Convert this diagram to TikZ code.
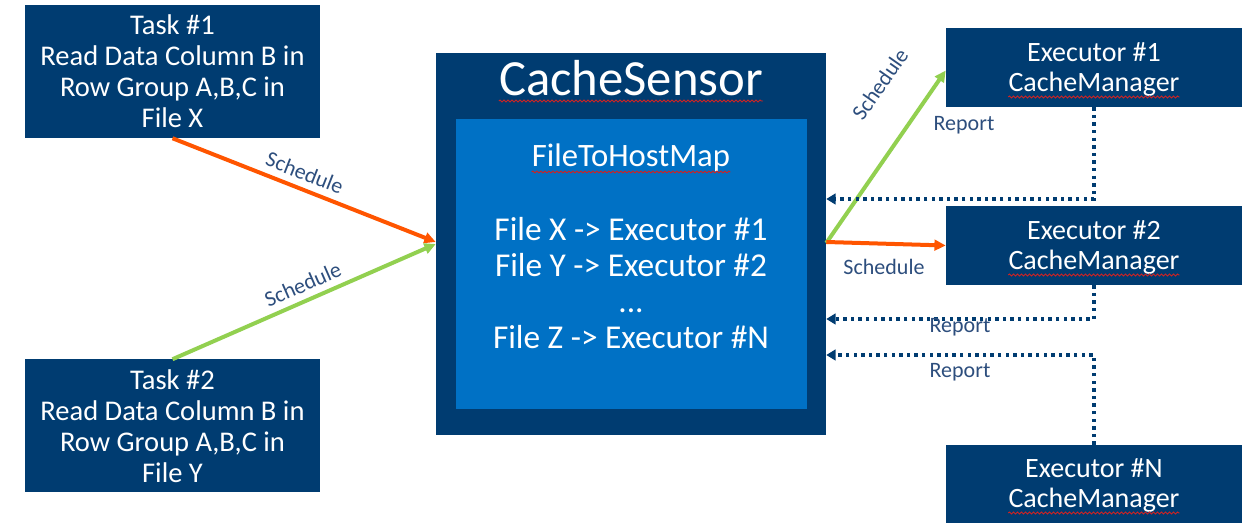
\documentclass[tikz,border=0pt]{standalone}
\usepackage{fontspec}
\setmainfont{Carlito}
\usetikzlibrary{arrows.meta,calc,decorations.pathmorphing}

\definecolor{navy}{RGB}{0,60,113}
\definecolor{mapblue}{RGB}{0,113,197}
\definecolor{schedorange}{RGB}{255,85,0}
\definecolor{schedgreen}{RGB}{146,208,80}
\definecolor{labelblue}{RGB}{45,78,125}
\definecolor{spellred}{RGB}{205,35,35}

% red wavy underline below a named text node
\newcommand\squig[1]{\draw[squiggle] ($(#1.base west)+(0,5)$) -- ($(#1.base east)+(0,5)$);}

\begin{document}
\begin{tikzpicture}[x=0.75pt,y=-0.75pt,
  taskbox/.style={fill=navy, text=white, minimum width=221.25pt, minimum height=99.75pt,
    align=center, inner sep=0pt, font=\fontsize{21.4}{23.25}\selectfont},
  execbox/.style={fill=navy, minimum width=222pt, minimum height=59.25pt, inner sep=0pt},
  exectext/.style={text=white, inner sep=0pt, anchor=base, font=\fontsize{21}{24}\selectfont},
  lbl/.style={text=labelblue, inner sep=2pt, font=\fontsize{16.5}{19}\selectfont},
  sched/.style={line width=3pt, -{Triangle[length=8.5pt,width=8pt]}},
  report/.style={navy, line width=2.5pt, dash pattern=on 2.5pt off 3.2pt,
    -{Triangle[length=7pt,width=8pt]}},
  squiggle/.style={spellred, line width=0.7pt, decorate,
    decoration={snake, amplitude=0.7pt, segment length=3pt}}]
\useasboundingbox (0,0) rectangle (1243,523);
\clip (0,0) rectangle (1243,523);

% task boxes
\node[taskbox] (t1) at (172.5,71.5) {Task \#1\\Read Data Column B in\\Row Group A,B,C in\\File X};
\node[taskbox] (t2) at (172.5,426) {Task \#2\\Read Data Column B in\\Row Group A,B,C in\\File Y};

% CacheSensor with its file-to-host map
\node[fill=navy, minimum width=292.5pt, minimum height=286.5pt, inner sep=0pt] (cs) at (631,244) {};
\node[text=white, inner sep=0pt, anchor=base, font=\fontsize{38}{41}\selectfont] (cstitle) at (631,96) {CacheSensor};
\node[fill=mapblue, minimum width=263.25pt, minimum height=217.5pt, inner sep=0pt] (map) at (631.5,264) {};
\node[text=white, inner sep=0pt, anchor=base, font=\fontsize{24.5}{28}\selectfont] (fth) at (631,167) {FileToHostMap};
\node[text=white, inner sep=0pt, align=center, font=\fontsize{25}{27}\selectfont] (maplist) at (631,283)
  {File X -> Executor \#1\\File Y -> Executor \#2\\...\\File Z -> Executor \#N};

% executors
\node[execbox] (e1) at (1094,67.5) {};
\node[exectext] (e1a) at (1094,62) {Executor \#1};
\node[exectext] (e1b) at (1094,92) {CacheManager};
\node[execbox] (e2) at (1094,245.5) {};
\node[exectext] (e2a) at (1094,240) {Executor \#2};
\node[exectext] (e2b) at (1094,270) {CacheManager};
\node[execbox] (eN) at (1094,484.5) {};
\node[exectext] (eNa) at (1094,478) {Executor \#N};
\node[exectext] (eNb) at (1094,508) {CacheManager};

\squig{cstitle}
\squig{fth}
\squig{e1b}
\squig{e2b}
\squig{eNb}

% scheduling arrows
\draw[sched, schedorange] (t1.south) -- node[lbl, sloped, above, inner sep=5pt, pos=0.48] {Schedule} ($(cs.west)+(0,-2)$);
\draw[sched, schedgreen] (t2.north) -- node[lbl, sloped, above, inner sep=5pt, pos=0.52] {Schedule} (cs.west);
\draw[sched, schedgreen] ($(cs.east)+(0,-1)$) -- ($(e1.west)+(0,3)$);
\draw[sched, schedorange] ($(cs.east)+(0,-2)$) -- (e2.west);
\node[lbl, rotate=55] (s3) at (880,84) {Schedule};
\node[lbl] (s4) at (884,267) {Schedule};

% report connectors
\coordinate (r1) at (0,199);
\coordinate (r2) at (0,319);
\coordinate (r3) at (0,355);
\draw[report] (e1.south) |- (cs.east |- r1);
\draw[report] (e2.south) |- (cs.east |- r2);
\draw[report] (eN.north) |- (cs.east |- r3);
\node[lbl] (rep1) at (964,125) {Report};
\node[lbl] (rep2) at (960,327) {Report};
\node[lbl] (rep3) at (960,372) {Report};
\end{tikzpicture}
\end{document}
